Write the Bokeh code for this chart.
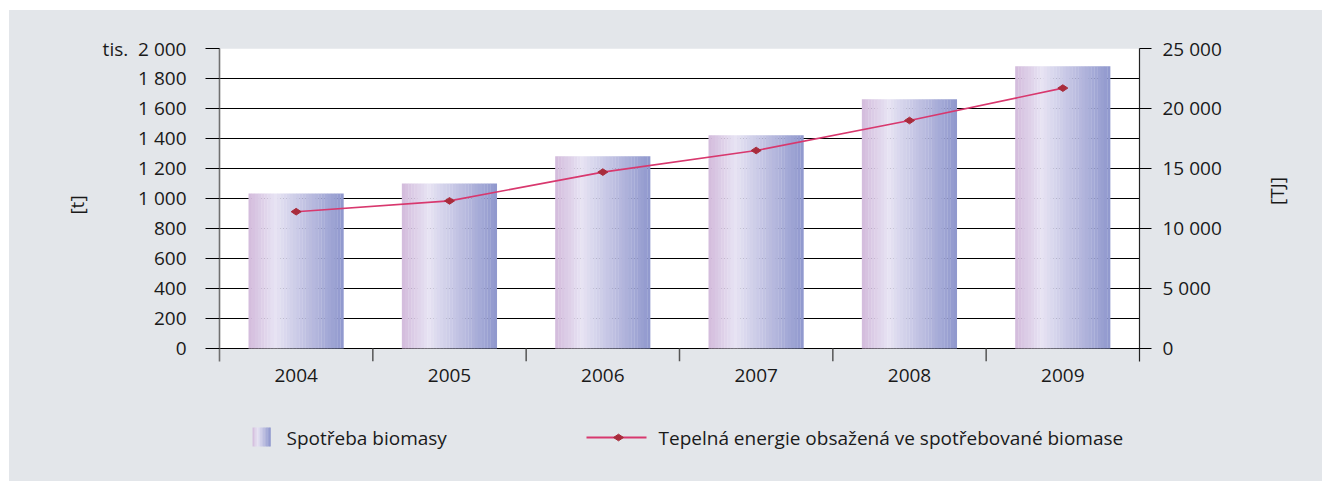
import math
from bokeh.plotting import figure
from bokeh.models import (ColumnDataSource, FactorRange, Range1d, LinearAxis, FixedTicker,
                          BoxAnnotation)
from bokeh.transform import dodge
from bokeh.layouts import column
from bokeh.core.properties import value
from bokeh.embed import file_html
from bokeh.resources import INLINE

# ---- data ----
years = ["2004", "2005", "2006", "2007", "2008", "2009"]
biomass_kt = [1033, 1100, 1282, 1422, 1662, 1882]           # tis. t
energy_tj = [11400, 12300, 14700, 16500, 19000, 21700]      # TJ
left_ticks = [0, 200, 400, 600, 800, 1000, 1200, 1400, 1600, 1800, 2000]
right_ticks = [0, 5000, 10000, 15000, 20000, 25000]
bar_label = "Spotřeba biomasy"
line_label = "Tepelná energie obsažená ve spotřebované biomase"
left_title = "[t]"
right_title = "[TJ]"
unit_prefix = "tis."

FONT = "Open Sans"
FS = "19px"
BG = "#e3e6ea"
TXT = "#1a1a1a"

def fmt(v):
    return f"{v:,}".replace(",", " ")

src = ColumnDataSource(dict(year=years, biomass=biomass_kt, tj=energy_tj))
bsrc = ColumnDataSource(dict(year=years[:-1]))

y_end = 2000
y_start = -86.67
ratio = 25000 / 2000

p = figure(x_range=FactorRange(*years, range_padding=0),
           y_range=Range1d(y_start, y_end),
           width=1313, height=398, output_backend="svg", toolbar_location=None,
           min_border_left=210, min_border_right=183, min_border_top=38, min_border_bottom=47,
           background_fill_color=BG, border_fill_color=BG, outline_line_color=None)
p.extra_y_ranges = {"tj": Range1d(y_start * ratio, 25000)}

# white plotting area (only above zero)
p.add_layout(BoxAnnotation(bottom=0, top=y_end, fill_color="white", fill_alpha=1,
                           line_color=None, level="image"))

# gradient bars built from thin slices
def lerp(c1, c2, t):
    return tuple(int(round(a + (b - a) * t)) for a, b in zip(c1, c2))

stops = [(0.0, (211, 187, 220)), (0.28, (231, 227, 243)), (1.0, (143, 151, 205))]
def grad(t):
    for (t0, c0), (t1, c1) in zip(stops[:-1], stops[1:]):
        if t <= t1:
            return "#%02x%02x%02x" % lerp(c0, c1, (t - t0) / (t1 - t0))
    return "#%02x%02x%02x" % stops[-1][1]

W = 0.62
N = 30
sw = W / N
for i in range(N):
    off = -W / 2 + (i + 0.5) * sw
    c = grad((i + 0.5) / N)
    p.vbar(x=dodge("year", off, range=p.x_range), top="biomass", bottom=0,
           width=sw * (1.08 if i < N - 1 else 1.0), fill_color=c, line_color=None, source=src)

# category boundary ticks below the zero line
p.segment(x0=dodge("year", 0.5, range=p.x_range), y0=y_start,
          x1=dodge("year", 0.5, range=p.x_range), y1=0,
          line_color="#555555", line_width=1.5, source=bsrc)

# line series on the right axis
p.line(x="year", y="tj", y_range_name="tj", source=src, line_color="#d8386e", line_width=1.6)
p.scatter(x="year", y="tj", y_range_name="tj", source=src, marker="diamond", size=10,
          angle=1.5708, fill_color="#a92c3c", line_color="#a92c3c")

# grid
p.xgrid.grid_line_color = None
p.ygrid.ticker = FixedTicker(ticks=left_ticks)
p.ygrid.grid_line_color = "black"
p.ygrid.grid_line_width = 1

# left axis
ya = p.yaxis[0]
ya.ticker = FixedTicker(ticks=left_ticks)
overrides = {t: fmt(t) for t in left_ticks}
overrides[left_ticks[-1]] = unit_prefix + "\u00a0\u00a0" + fmt(left_ticks[-1])
ya.major_label_overrides = overrides
ya.axis_line_color = "#707070"
ya.axis_line_width = 1.6
ya.major_tick_line_color = "black"
ya.major_tick_out = 14
ya.major_tick_in = 0
ya.minor_tick_line_color = None
ya.major_label_standoff = 19
ya.major_label_text_font = FONT
ya.major_label_text_font_size = FS
ya.major_label_text_color = TXT
ya.axis_label = left_title
ya.axis_label_text_font = FONT
ya.axis_label_text_font_size = FS
ya.axis_label_text_font_style = "normal"
ya.axis_label_text_color = TXT
ya.axis_label_standoff = 10

# right axis
ra = LinearAxis(y_range_name="tj", ticker=FixedTicker(ticks=right_ticks))
ra.major_label_overrides = {t: fmt(t) for t in right_ticks}
ra.axis_line_color = "#222222"
ra.axis_line_width = 1.2
ra.major_tick_line_color = "black"
ra.major_tick_out = 12
ra.major_tick_in = 0
ra.minor_tick_line_color = None
ra.major_label_standoff = 11
ra.major_label_text_font = FONT
ra.major_label_text_font_size = FS
ra.major_label_text_color = TXT
ra.axis_label = right_title
ra.axis_label_text_font = FONT
ra.axis_label_text_font_size = FS
ra.axis_label_text_font_style = "normal"
ra.axis_label_text_color = TXT
ra.axis_label_standoff = 52
try:
    ra.axis_label_orientation = math.pi / 2
except Exception:
    pass
p.add_layout(ra, "right")

# x axis
xa = p.xaxis[0]
xa.axis_line_color = None
xa.major_tick_line_color = None
xa.major_tick_out = 0
xa.major_tick_in = 0
xa.major_label_standoff = 7
xa.major_label_text_font = FONT
xa.major_label_text_font_size = FS
xa.major_label_text_color = TXT

# ---- legend strip below (frame aligned with the chart; coordinates in page pixels) ----
lg = figure(x_range=Range1d(219, 1139), y_range=Range1d(481, 408), width=1313, height=73,
            output_backend="svg", toolbar_location=None,
            min_border_left=210, min_border_right=183, min_border_top=0, min_border_bottom=0,
            background_fill_color=BG, border_fill_color=BG, outline_line_color=None)
lg.axis.visible = False
lg.grid.visible = False
M = 12
for i in range(M):
    x0 = 252 + i * 18 / M
    lg.quad(left=x0, right=x0 + 18 / M + 0.3, bottom=446, top=427,
            fill_color=grad((i + 0.5) / M), line_color=None)
lg.text(x=[286], y=[437], text=[bar_label], text_font=value(FONT), text_font_size=FS,
        text_baseline="middle", text_color=TXT)
lg.segment(x0=[586], y0=[437], x1=[646], y1=[437], line_color="#d8386e", line_width=2)
lg.scatter(x=[618], y=[437], marker="diamond", size=10, angle=1.5708,
           fill_color="#a92c3c", line_color="#a92c3c")
lg.text(x=[658], y=[437], text=[line_label], text_font=value(FONT), text_font_size=FS,
        text_baseline="middle", text_color=TXT)

layout = column(p, lg, spacing=0, margin=(10, 0, 0, 9), styles={"background-color": BG})
open("out.html", "w").write(file_html(layout, INLINE))
